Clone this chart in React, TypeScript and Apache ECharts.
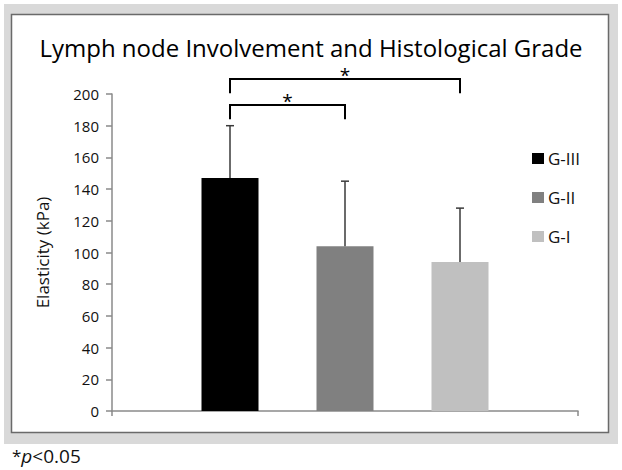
import React, { useEffect, useRef } from "react";
import * as echarts from "echarts";

const categories = ["Grade"];
const seriesNames = ["G-III", "G-II", "G-I"];
const seriesColors = ["#000000", "#808080", "#c0c0c0"];
const meanValues = [147, 104, 94];
const upperErrorValues = [180, 145, 128];
// brackets: [fromBarIndex, toBarIndex, levelValue, legEndValue]
const bracketFrom = [0, 0];
const bracketTo = [2, 1];
const bracketLevel = [209.5, 193];
const bracketLegEnd = [200.5, 184];
const bracketLabel = ["*", "*"];
const yTicks = { min: 0, max: 200, interval: 20 };

const BAR_WIDTH_RATIO = 57 / 466;
const BAR_GAP = 58 / 57;
const OFFSET_RATIO = BAR_WIDTH_RATIO * (1 + BAR_GAP);

export default function App() {
  const ref = useRef<HTMLDivElement>(null);
  useEffect(() => {
    if (!ref.current) return;
    const chart = echarts.init(ref.current, undefined, { renderer: "svg" });
    const font = "'Open Sans', 'Noto Sans', sans-serif";
    const barSeries = seriesNames.map((name, i) => ({
      type: "bar",
      name,
      data: categories.map(() => meanValues[i]),
      barWidth: (BAR_WIDTH_RATIO * 100).toFixed(3) + "%",
      barGap: (BAR_GAP * 100).toFixed(2) + "%",
      itemStyle: { color: seriesColors[i] },
      z: 2,
    }));
    const errorData = meanValues.map((m, i) => [0, m, upperErrorValues[i], i]);
    const bracketData = bracketFrom.map((f, i) => [0, bracketLevel[i], bracketLegEnd[i], f, bracketTo[i]]);
    const option: any = {
      animation: false,
      backgroundColor: "#ffffff",
      textStyle: { fontFamily: font },
      graphic: [
        { type: "rect", z: -10, shape: { x: 4, y: 4, width: 614, height: 440 }, style: { fill: "#d9d9d9" }, silent: true },
        { type: "rect", z: -9, shape: { x: 11.5, y: 14.5, width: 597, height: 418 }, style: { fill: "#ffffff", stroke: "#6a6a6a", lineWidth: 1.5 }, silent: true },
        {
          type: "text",
          left: 12,
          top: 446,
          style: {
            text: "{s|*}{p|p}{n|<0.05}",
            rich: {
              s: { fontSize: 17, fontFamily: font, fill: "#111" },
              p: { fontSize: 19, fontStyle: "italic", fontFamily: font, fill: "#111" },
              n: { fontSize: 19, fontFamily: font, fill: "#111" },
            },
          },
        },
      ],
      title: {
        text: "Lymph node Involvement and Histological Grade",
        left: "center",
        top: 30,
        textStyle: { fontSize: 24, fontWeight: "normal", color: "#000", fontFamily: font },
      },
      legend: {
        orient: "vertical",
        left: 532,
        top: 150,
        padding: 0,
        icon: "rect",
        itemWidth: 12,
        itemHeight: 11,
        itemGap: 22,
        data: seriesNames,
        textStyle: { fontSize: 17, lineHeight: 12, color: "#111", fontFamily: font, padding: [0, 0, 0, -1] },
        selectedMode: false,
      },
      grid: { left: 112, right: 44, top: 94, bottom: 59 },
      xAxis: {
        type: "category",
        data: categories,
        axisLine: { lineStyle: { color: "#8a8a8a", width: 1.5 } },
        axisTick: { show: true, length: 5, lineStyle: { color: "#8a8a8a", width: 1.5 } },
        axisLabel: { show: false },
      },
      yAxis: {
        type: "value",
        min: yTicks.min,
        max: yTicks.max,
        interval: yTicks.interval,
        name: "Elasticity (kPa)",
        nameLocation: "middle",
        nameGap: 61,
        nameTextStyle: { fontSize: 17, color: "#111", fontFamily: font },
        axisLine: { show: true, lineStyle: { color: "#8a8a8a", width: 1.5 } },
        axisTick: { show: true, length: 6, lineStyle: { color: "#8a8a8a", width: 1.5 } },
        axisLabel: { fontSize: 15, color: "#111", margin: 13, fontFamily: font },
        splitLine: { show: false },
      },
      series: [
        ...barSeries,
        {
          type: "custom",
          name: "errors",
          data: errorData,
          encode: { x: 0, y: [1, 2] },
          clip: false,
          z: 3,
          renderItem: (params: any, api: any) => {
            const idx = api.value(3);
            const band = api.size([1, 0])[0];
            const c0 = api.coord([api.value(0), api.value(1)]);
            const c1 = api.coord([api.value(0), api.value(2)]);
            const x = c0[0] + (idx - 1) * band * OFFSET_RATIO;
            const style = { stroke: "#3a3a3a", lineWidth: 1.5 };
            return {
              type: "group",
              children: [
                { type: "line", shape: { x1: x, y1: c0[1], x2: x, y2: c1[1] }, style },
                { type: "line", shape: { x1: x - 4, y1: c1[1], x2: x + 4, y2: c1[1] }, style },
              ],
            };
          },
        },
        {
          type: "custom",
          name: "brackets",
          data: bracketData,
          encode: { x: 0, y: [1, 2] },
          clip: false,
          z: 3,
          renderItem: (params: any, api: any) => {
            const band = api.size([1, 0])[0];
            const from = api.value(3);
            const to = api.value(4);
            const top = api.coord([api.value(0), api.value(1)]);
            const leg = api.coord([api.value(0), api.value(2)]);
            const xa = top[0] + (from - 1) * band * OFFSET_RATIO;
            const xb = top[0] + (to - 1) * band * OFFSET_RATIO;
            return {
              type: "group",
              children: [
                {
                  type: "polyline",
                  shape: { points: [[xa, leg[1]], [xa, top[1]], [xb, top[1]], [xb, leg[1]]] },
                  style: { stroke: "#000", lineWidth: 2, fill: "none" },
                },
                {
                  type: "text",
                  style: {
                    text: bracketLabel[params.dataIndex],
                    x: (xa + xb) / 2,
                    y: top[1] - 4,
                    align: "center",
                    verticalAlign: "middle",
                    fontSize: 19,
                    lineHeight: 10,
                    fill: "#000",
                    fontFamily: font,
                  },
                },
              ],
            };
          },
        },
      ],
    };
    chart.setOption(option);
    return () => chart.dispose();
  }, []);
  return (
    <div
      ref={ref}
      style={{ position: "absolute", left: 0, top: 0, width: 622, height: 470 }}
    />
  );
}
